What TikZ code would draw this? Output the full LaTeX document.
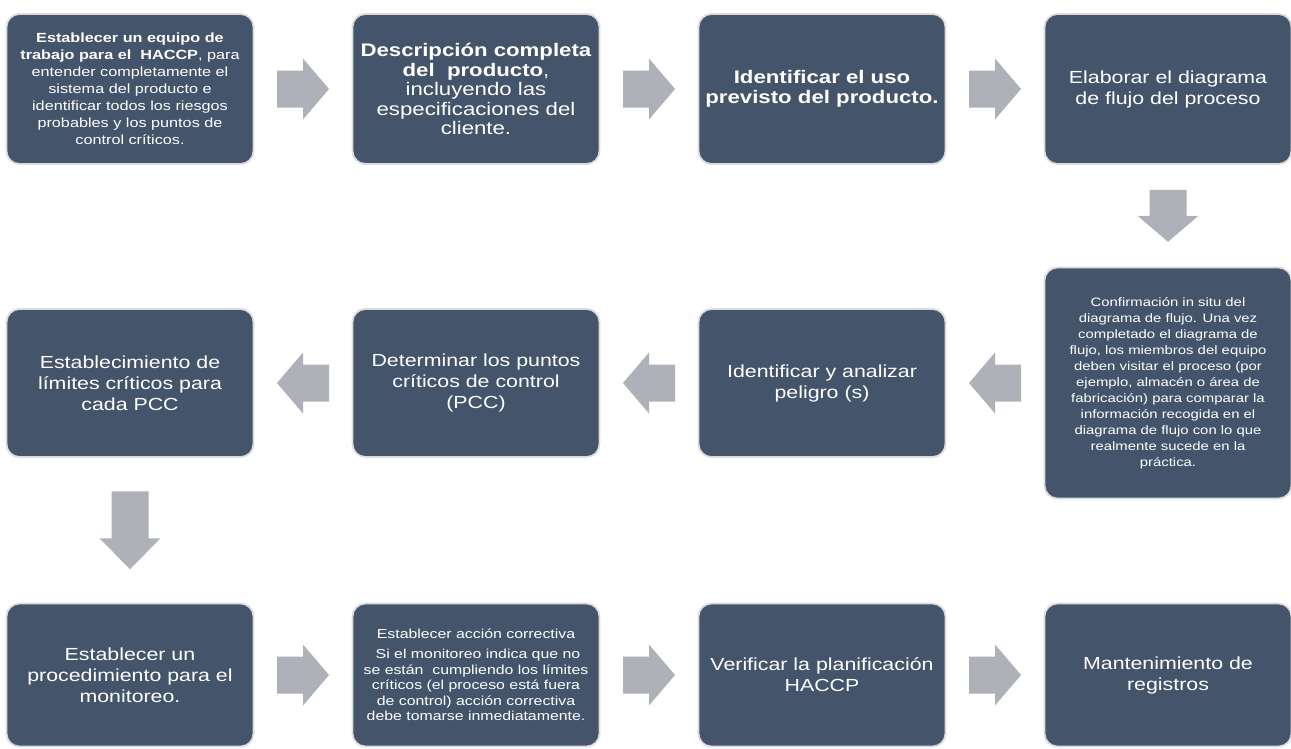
\documentclass[tikz,border=0pt]{standalone}
\usepackage{fontspec}
\setmainfont{Liberation Sans}[FakeStretch=1.22]
\usetikzlibrary{calc}

\definecolor{boxblue}{HTML}{44546A}
\definecolor{boxedge}{HTML}{DCDCDC}
\definecolor{arrowgray}{HTML}{AEB1B8}

\tikzset{
  stepbox/.style={rectangle, rounded corners=13pt, fill=boxblue, draw=boxedge,
    line width=1.8pt, text=white, align=center, minimum width=247pt, inner sep=0pt},
  rowone/.style={minimum height=150pt},
  rowtwo/.style={minimum height=148pt},
  rowthree/.style={minimum height=143pt},
  bigtxt/.style={font={\fontsize{17.5}{21}\selectfont}},
  boldtxt/.style={font={\fontsize{18.2}{19.5}\selectfont}},
  smalltxt/.style={font={\fontsize{13.3}{17}\selectfont}},
  % short block arrow, pointing along +x
  flowarrow/.pic={\fill[arrowgray] (-26,-18.5) -- (0,-18.5) -- (0,-30.5) -- (26,0)
    -- (0,30.5) -- (0,18.5) -- (-26,18.5) -- cycle;},
  % longer block arrow for the wider gap
  longflowarrow/.pic={\fill[arrowgray] (-39,-18.5) -- (8,-18.5) -- (8,-30.5) -- (39,0)
    -- (8,30.5) -- (8,18.5) -- (-39,18.5) -- cycle;}
}

\begin{document}
\begin{tikzpicture}[x=1pt,y=-1pt]
\useasboundingbox (0,0) rectangle (1291,748);
\fill[white] (0,0) rectangle (1291,748);

% first row
\node[stepbox, rowone, smalltxt] (s1) at (130,89)
  {\textbf{Establecer un equipo de}\\\textbf{trabajo para el\ \ HACCP}, para\\entender completamente el\\sistema del producto e\\identificar todos los riesgos\\probables y los puntos de\\control críticos.};
\node[stepbox, rowone, boldtxt] (s2) at (476,89)
  {\textbf{Descripción completa}\\\textbf{del\ \ producto},\\incluyendo las\\especificaciones del\\cliente.};
\node[stepbox, rowone, boldtxt] (s3) at (822,89)
  {\textbf{Identificar el uso}\\\textbf{previsto del producto.}};
\node[stepbox, rowone, bigtxt] (s4) at (1168,89)
  {Elaborar el diagrama\\de flujo del proceso};

% second row (right to left)
\node[stepbox, minimum height=231pt, font={\fontsize{12.2}{16}\selectfont}] (s5) at (1168,383)
  {Confirmación in situ del\\diagrama de flujo. Una vez\\completado el diagrama de\\flujo, los miembros del equipo\\deben visitar el proceso (por\\ejemplo, almacén o área de\\fabricación) para comparar la\\información recogida en el\\diagrama de flujo con lo que\\realmente sucede en la\\práctica.};
\node[stepbox, rowtwo, bigtxt] (s6) at (822,383)
  {Identificar y analizar\\peligro (s)};
\node[stepbox, rowtwo, bigtxt] (s7) at (476,383)
  {Determinar los puntos\\críticos de control\\(PCC)};
\node[stepbox, rowtwo, bigtxt] (s8) at (130,383)
  {Establecimiento de\\límites críticos para\\cada PCC};

% third row
\node[stepbox, rowthree, bigtxt] (s9) at (130,675)
  {Establecer un\\procedimiento para el\\monitoreo.};
\node[stepbox, rowthree, font={\fontsize{13}{15.5}\selectfont}] (s10) at (476,675)
  {Establecer acción correctiva\\[5pt]\hspace*{4pt}Si el monitoreo indica que no\\se están\ \ cumpliendo los límites\\críticos (el proceso está fuera\\de control) acción correctiva\\debe tomarse inmediatamente.};
\node[stepbox, rowthree, bigtxt] (s11) at (822,675)
  {Verificar la planificación\\HACCP};
\node[stepbox, rowthree, bigtxt] (s12) at (1168,675)
  {Mantenimiento de\\registros};

% connectors
\pic at ($(s1.east)!0.5!(s2.west)$) {flowarrow};
\pic at ($(s2.east)!0.5!(s3.west)$) {flowarrow};
\pic at ($(s3.east)!0.5!(s4.west)$) {flowarrow};
\pic[rotate=-90] at ($(s4.south)!0.5!(s5.north)$) {flowarrow};
\pic[rotate=180] at ($(s5.west)!0.5!(s6.east)$) {flowarrow};
\pic[rotate=180] at ($(s6.west)!0.5!(s7.east)$) {flowarrow};
\pic[rotate=180] at ($(s7.west)!0.5!(s8.east)$) {flowarrow};
\pic[rotate=-90] at ($(s8.south)!0.5!(s9.north)$) {longflowarrow};
\pic at ($(s9.east)!0.5!(s10.west)$) {flowarrow};
\pic at ($(s10.east)!0.5!(s11.west)$) {flowarrow};
\pic at ($(s11.east)!0.5!(s12.west)$) {flowarrow};
\end{tikzpicture}
\end{document}
